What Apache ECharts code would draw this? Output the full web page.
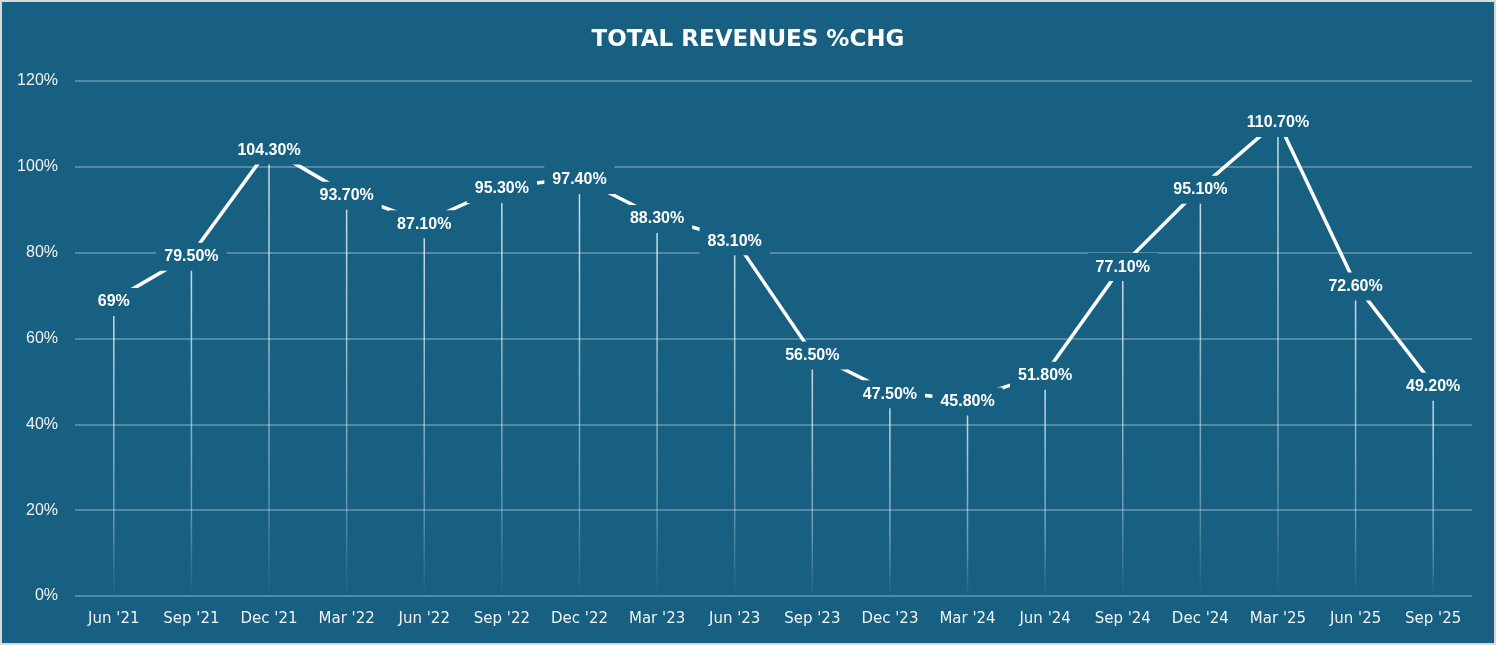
<!DOCTYPE html>
<html>
<head>
<meta charset="utf-8">
<script src="https://cdn.jsdelivr.net/npm/echarts@6/dist/echarts.min.js"></script>
<style>
  html, body { margin: 0; padding: 0; background: #ffffff; }
  #wrap { width: 1496px; height: 645px; box-sizing: border-box; border: 2px solid #d9d9d9; background: #186082; }
  #main { width: 1492px; height: 641px; }
</style>
</head>
<body>
<div id="wrap"><div id="main"></div></div>
<script>
  // quarters
  const categories = ["Jun '21", "Sep '21", "Dec '21", "Mar '22", "Jun '22", "Sep '22", "Dec '22", "Mar '23",
    "Jun '23", "Sep '23", "Dec '23", "Mar '24", "Jun '24", "Sep '24", "Dec '24", "Mar '25", "Jun '25", "Sep '25"];
  // total revenues % change
  const revenueChg = [69, 79.5, 104.3, 93.7, 87.1, 95.3, 97.4, 88.3, 83.1, 56.5, 47.5, 45.8, 51.8, 77.1, 95.1, 110.7, 72.6, 49.2];

  const bg = '#186082';
  const myChart = echarts.init(document.getElementById('main'));

  const option = {
    backgroundColor: bg,
    animation: false,
    title: {
      text: 'TOTAL REVENUES %CHG',
      left: 'center',
      top: 22,
      textStyle: { color: '#ffffff', fontSize: 23, fontWeight: 'bold', fontFamily: 'DejaVu Sans' }
    },
    grid: { left: 73, right: 22, top: 79, bottom: 47 },
    xAxis: {
      type: 'category',
      data: categories,
      axisLine: { show: false },
      axisTick: { show: false },
      axisLabel: { color: '#f2f2f2', fontSize: 15, margin: 16, fontFamily: 'DejaVu Sans' }
    },
    yAxis: {
      type: 'value',
      min: 0,
      max: 120,
      interval: 20,
      axisLabel: { formatter: '{value}%', color: '#f2f2f2', fontSize: 16, margin: 17, fontFamily: 'Liberation Sans' },
      splitLine: { lineStyle: { color: 'rgba(255,255,255,0.35)', width: 1.5 } }
    },
    series: [
      { // drop lines
        type: 'bar',
        data: revenueChg,
        barWidth: 1.5,
        z: 2,
        itemStyle: {
          color: new echarts.graphic.LinearGradient(0, 0, 0, 1, [
            { offset: 0, color: 'rgba(255,255,255,0.8)' },
            { offset: 0.75, color: 'rgba(255,255,255,0.35)' },
            { offset: 1, color: 'rgba(255,255,255,0)' }
          ])
        }
      },
      {
        type: 'line',
        data: revenueChg,
        symbol: 'none',
        z: 3,
        lineStyle: { color: '#ffffff', width: 3.5 }
      },
      { // value labels
        type: 'scatter',
        data: revenueChg,
        symbolSize: 1,
        itemStyle: { color: 'rgba(0,0,0,0)', opacity: 1 },
        z: 5,
        label: {
          show: true,
          position: 'inside',
          offset: [0, 2],
          color: '#ffffff',
          fontSize: 16,
          fontWeight: 'bold',
          fontFamily: 'Liberation Sans',
          backgroundColor: bg,
          padding: [6, 8],
          formatter: function (p) {
            let v = p.value;
            return (Math.round(v) === v ? v : v.toFixed(2)) + '%';
          }
        }
      }
    ]
  };

  myChart.setOption(option);
</script>
</body>
</html>
